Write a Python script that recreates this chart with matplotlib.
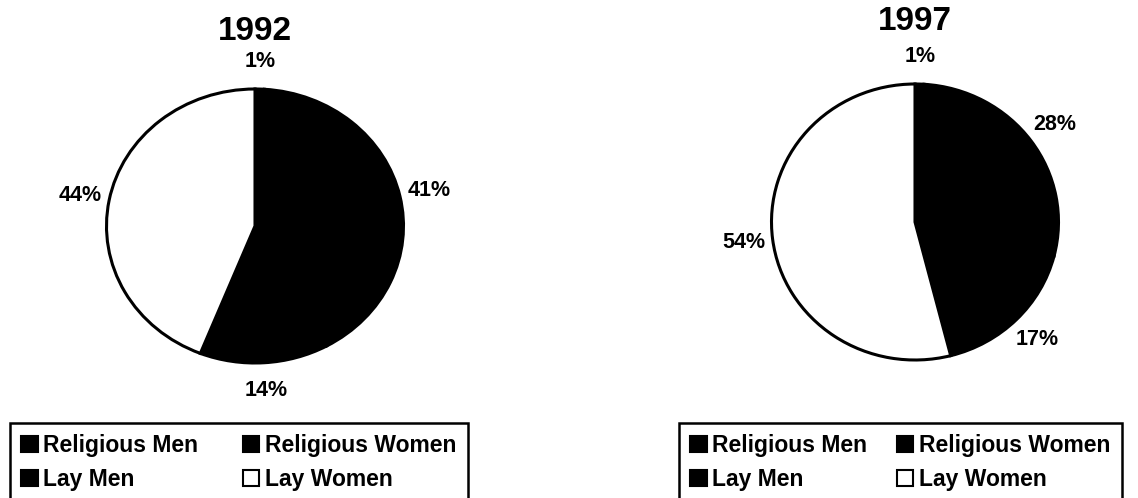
import matplotlib
matplotlib.use("Agg")
import matplotlib.pyplot as plt
from matplotlib.patches import Patch

plt.rcParams['font.family'] = ['Liberation Sans', 'DejaVu Sans']
plt.rcParams['font.weight'] = 'bold'

# Data
categories = ["Religious Men", "Religious Women", "Lay Men", "Lay Women"]
years = ["1992", "1997"]
shares_1992 = [1, 41, 14, 44]
shares_1997 = [1, 28, 17, 54]
colors = ["#000000", "#000000", "#000000", "#ffffff"]

W, H = 1138, 498
fig = plt.figure(figsize=(W / 100, H / 100), dpi=100)

# pie centre / radii in pixels (from top-left), legend box in pixels
layout = {
    "1992": dict(cx=255, cy=226, rx=148.5, ry=137, title_y=32,
                 leg=(10, 423, 468, 502)),
    "1997": dict(cx=915, cy=222, rx=143.5, ry=138, title_y=22,
                 leg=(679, 422, 1122, 502)),
}

for year, shares in zip(years, [shares_1992, shares_1997]):
    L = layout[year]
    lim = 1.5
    aw, ah = 2 * lim * L["rx"], 2 * lim * L["ry"]
    ax = fig.add_axes([(L["cx"] - aw / 2) / W, (H - L["cy"] - ah / 2) / H, aw / W, ah / H])
    wedges, _, autotexts = ax.pie(
        shares, colors=colors, startangle=90, counterclock=False,
        autopct=lambda p: f"{p:.0f}%", pctdistance=1.2,
        wedgeprops=dict(edgecolor="black", linewidth=2.2),
        textprops=dict(fontsize=15.5, fontweight="bold", color="black"),
    )
    ax.set_aspect("auto")
    ax.set_xlim(-lim, lim)
    ax.set_ylim(-lim, lim)
    ax.axis("off")

    fig.text(L["cx"] / W, 1 - L["title_y"] / H, year, ha="center", va="center",
             fontsize=24, fontweight="bold")

    # legend, row-wise order
    handles = [Patch(facecolor=c, edgecolor="black", linewidth=1.5) for c in colors]
    order = [0, 2, 1, 3]
    x0, y0, x1, y1 = L["leg"]
    leg = fig.legend([handles[i] for i in order], [categories[i] for i in order],
                     ncol=2, loc="lower left", mode="expand",
                     bbox_to_anchor=(x0 / W, 1 - y1 / H, (x1 - x0) / W, (y1 - y0) / H),
                     fontsize=16.5, frameon=True, fancybox=False, framealpha=1,
                     edgecolor="black", handlelength=0.7, handleheight=0.7,
                     handletextpad=0.25, labelspacing=0.45, borderpad=0.5,
                     borderaxespad=0)
    leg.get_frame().set_linewidth(1.8)

plt.savefig("out.png", dpi=100)
